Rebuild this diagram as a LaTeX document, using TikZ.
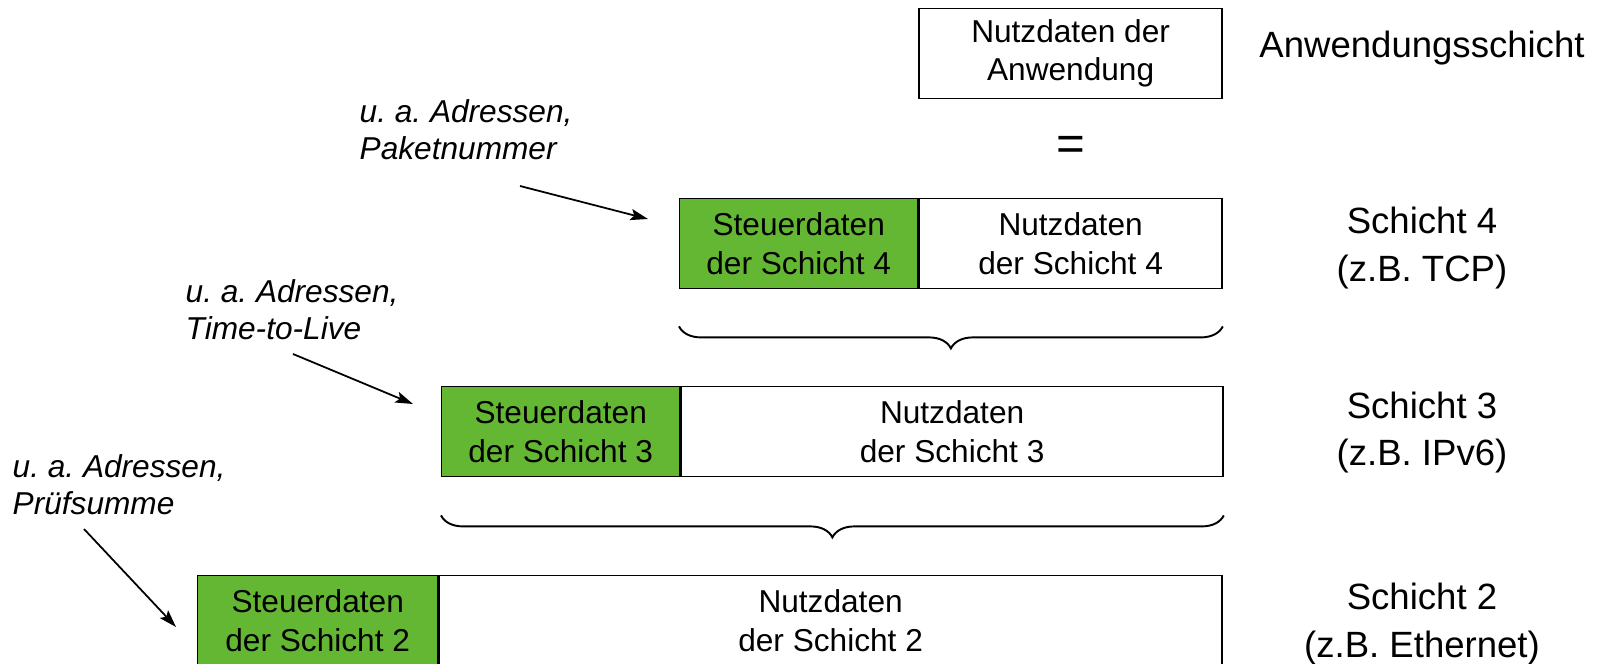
\documentclass[tikz,border=0pt]{standalone}
\usepackage{fontspec}
\setmainfont{Liberation Sans}
\usetikzlibrary{positioning, decorations.pathreplacing, arrows.meta}
\definecolor{steuergruen}{RGB}{100,183,50}
\frenchspacing

\begin{document}
\begin{tikzpicture}[
          feld/.style={draw, thin, minimum height=0.9cm, inner sep=0pt, align=center, font=\fontsize{9}{11}\selectfont},
          steuer/.style={feld, fill=steuergruen, minimum width=2.38cm},
          nutz/.style={feld, fill=white},
          notiz/.style={inner sep=0pt, align=left, font=\fontsize{9}{10.6}\selectfont\itshape},
          schicht/.style={align=center, font=\fontsize{10.4}{13.4}\selectfont},
          klammer/.style={decorate, decoration={brace, amplitude=0.22cm}, line width=0.55pt},
          >={Stealth[length=5pt, width=3.2pt, inset=1pt]}
        ]
          \useasboundingbox (0, 0) rectangle (16.07, 6.64);

          \node[steuer, anchor=north west] (s4) at (6.79, 4.66) {Steuerdaten\\der Schicht 4};
          \node[nutz, minimum width=3.03cm, right=0pt of s4] (n4) {Nutzdaten\\der Schicht 4};
          \node[nutz, minimum width=3.03cm, above=0.99cm of n4] (app) {Nutzdaten der\\Anwendung};
          \path (app) -- (n4) node[midway, font=\fontsize{14}{14}\selectfont] (gleich) {=};

          \node[steuer, anchor=north west] (s3) at (4.41, 2.78) {Steuerdaten\\der Schicht 3};
          \node[nutz, minimum width=5.42cm, right=0pt of s3] (n3) {Nutzdaten\\der Schicht 3};

          \node[steuer, minimum width=2.40cm, anchor=north west] (s2) at (1.97, 0.89) {Steuerdaten\\der Schicht 2};
          \node[nutz, minimum width=7.83cm, right=0pt of s2] (n2) {Nutzdaten\\der Schicht 2};

          \draw[klammer] ([yshift=-0.37cm]n4.south east) -- ([yshift=-0.37cm]s4.south west);
          \draw[klammer] ([yshift=-0.38cm]n3.south east) -- ([yshift=-0.38cm]s3.south west);

          \node[schicht] (l5) at (14.22, 6.16) {Anwendungsschicht};
          \node[schicht] (l4) at (14.22, 4.16) {Schicht 4\\(z.B. TCP)};
          \node[schicht] (l3) at (14.22, 2.31) {Schicht 3\\(z.B. IPv6)};
          \node[schicht] (l2) at (14.22, 0.40) {Schicht 2\\(z.B. Ethernet)};

          \node[notiz, anchor=north west] (a4) at (3.59, 5.65) {u. a. Adressen,\\Paketnummer};
          \node[notiz, anchor=north west] (a3) at (1.85, 3.85) {u. a. Adressen,\\Time-to-Live};
          \node[notiz, anchor=north west] (a2) at (0.12, 2.10) {u. a. Adressen,\\Prüfsumme};

          \coordinate (p4) at (5.20, 4.78);
          \coordinate (z4) at (6.48, 4.45);
          \coordinate (p3) at (2.93, 3.10);
          \coordinate (z3) at (4.13, 2.60);
          \coordinate (p2) at (0.84, 1.35);
          \coordinate (z2) at (1.76, 0.37);
          \draw[->, line width=0.5pt] (p4) -- (z4);
          \draw[->, line width=0.5pt] (p3) -- (z3);
          \draw[->, line width=0.5pt] (p2) -- (z2);
        \end{tikzpicture}
\end{document}
